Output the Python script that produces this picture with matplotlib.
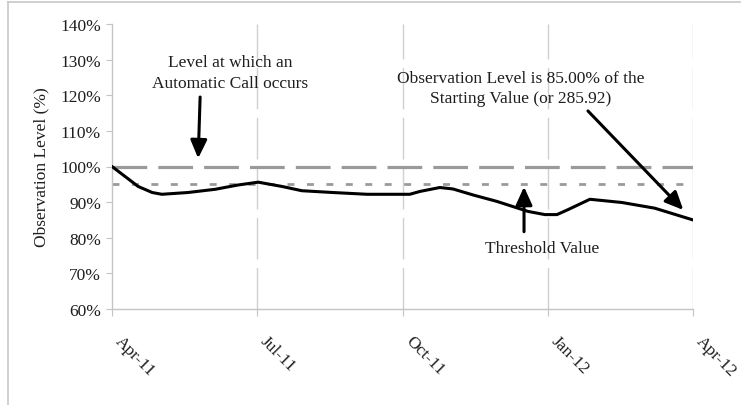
import matplotlib
matplotlib.use("Agg")
import matplotlib.pyplot as plt
from matplotlib.lines import Line2D

plt.rcParams['font.family'] = ['Liberation Serif', 'DejaVu Serif']
plt.rcParams['lines.scale_dashes'] = False

# ---- data (months since Apr-11, observation level in %) ----
months = [0.0, 0.27, 0.54, 0.83, 1.03, 1.57, 2.13, 2.60, 3.02, 3.51, 3.92,
          4.56, 5.27, 6.15, 6.36, 6.77, 7.04, 7.46, 7.95, 8.59, 8.94, 9.19,
          9.42, 9.87, 10.53, 11.21, 12.0]
levels = [100.0, 97.2, 94.4, 92.7, 92.2, 92.7, 93.6, 94.8, 95.6, 94.4, 93.2,
          92.7, 92.2, 92.2, 93.0, 94.1, 93.7, 92.0, 90.2, 87.4, 86.5, 86.5,
          87.9, 90.8, 89.9, 88.3, 85.0]
tick_months = [0, 3, 6, 9, 12]
tick_labels = ['Apr-11', 'Jul-11', 'Oct-11', 'Jan-12', 'Apr-12']
y_ticks = [60, 70, 80, 90, 100, 110, 120, 130, 140]
call_level = 100
threshold_level = 95

W, H = 741, 406
fig = plt.figure(figsize=(W / 100, H / 100), dpi=100)
ax = fig.add_axes([112 / W, 1 - 310 / H, (693 - 112) / W, (310 - 25) / H])

txt_color = '#1e1e1e'
spine_color = '#c4c4c4'

# vertical dashed gridlines
for m in tick_months[1:]:
    ax.axvline(m, color='#d0d0d0', lw=1.0, dashes=(30, 6), zorder=1)

# reference lines
ax.axhline(call_level, color='#9a9a9a', lw=2.3, dashes=(25, 8), zorder=2)
ax.axhline(threshold_level, color='#9a9a9a', lw=2.0, dashes=(5, 9), zorder=2)

# observation line
ax.plot(months, levels, color='black', lw=2.2, solid_joinstyle='round',
        solid_capstyle='round', zorder=3)

ax.set_xlim(0, 12)
ax.set_ylim(60, 140)
ax.set_yticks(y_ticks)
ax.set_yticklabels([f'{v}%' for v in y_ticks])
ax.set_xticks(tick_months)
ax.set_xticklabels(tick_labels, rotation=-45, ha='left', va='top',
                   rotation_mode='default')

for s in ['top', 'right']:
    ax.spines[s].set_visible(False)
for s in ['left', 'bottom']:
    ax.spines[s].set_color(spine_color)
    ax.spines[s].set_linewidth(1.0)

ax.tick_params(axis='y', length=4, color=spine_color, labelsize=12.5,
               labelcolor=txt_color, pad=4)
ax.tick_params(axis='x', length=5, color=spine_color, labelsize=12.5,
               labelcolor=txt_color, pad=12)

ax.set_ylabel('Observation Level (%)', fontsize=12.5, color=txt_color,
              labelpad=8)

# annotations
arrow_kw = dict(arrowstyle='-|>,head_length=1.1,head_width=0.5',
                color='black', lw=2.2, shrinkA=0, shrinkB=0)

ax.text(2.44, 126.4, 'Level at which an\nAutomatic Call occurs', ha='center',
        va='center', fontsize=12.5, color=txt_color, linespacing=1.35)
ax.annotate('', xy=(1.78, 102.3), xytext=(1.82, 119.5), arrowprops=arrow_kw)

ax.text(8.445, 122.0, 'Observation Level is 85.00% of the\nStarting Value (or 285.92)',
        ha='center', va='center', fontsize=12.5, color=txt_color,
        linespacing=1.35)
ax.annotate('', xy=(11.8, 87.8), xytext=(9.83, 115.6), arrowprops=arrow_kw)

ax.text(8.88, 77.2, 'Threshold Value', ha='center', va='center',
        fontsize=12.5, color=txt_color)
ax.annotate('', xy=(8.51, 94.3), xytext=(8.51, 81.7), arrowprops=arrow_kw)

# outer frame (left and top edges of the chart area)
fig.add_artist(Line2D([8 / W, 8 / W], [0, 1 - 3 / H], transform=fig.transFigure,
                      color='#c8c8c8', lw=1.2))
fig.add_artist(Line2D([8 / W, 1], [1 - 3 / H, 1 - 3 / H], transform=fig.transFigure,
                      color='#c8c8c8', lw=1.2))

fig.savefig('out.png', dpi=100)
